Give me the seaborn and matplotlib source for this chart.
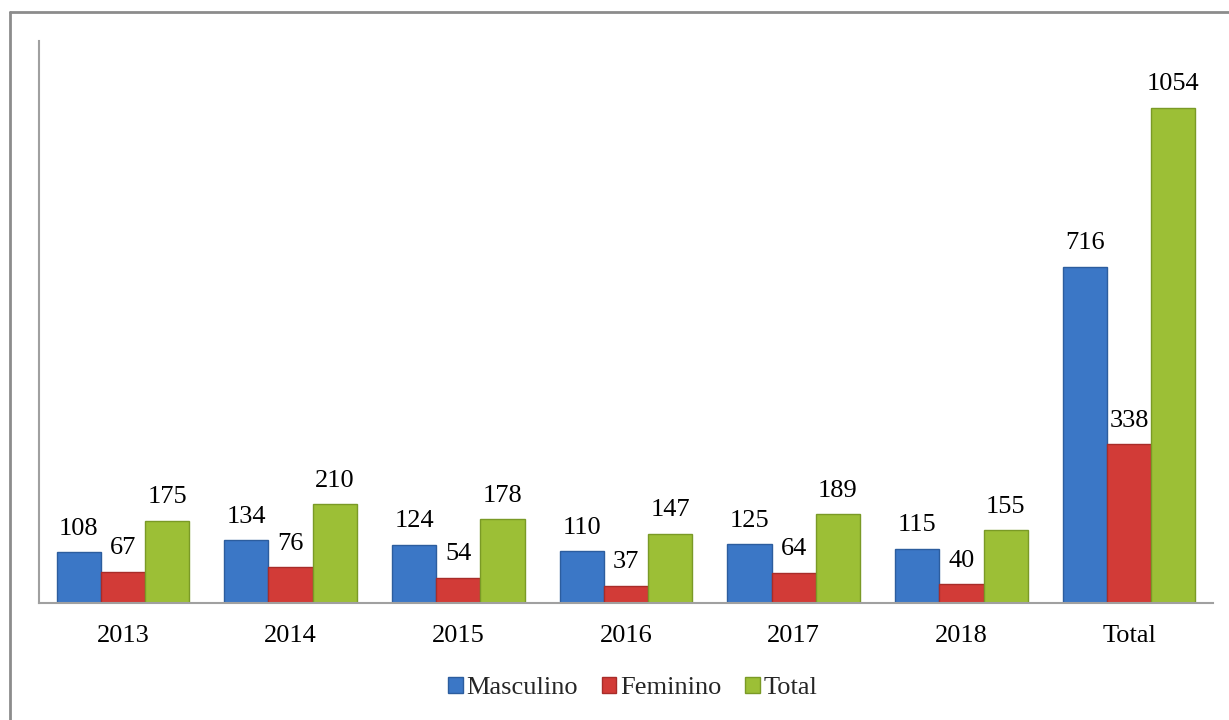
import numpy as np
import pandas as pd
import matplotlib.pyplot as plt
import seaborn as sns
from matplotlib.lines import Line2D

categories = ['2013', '2014', '2015', '2016', '2017', '2018', 'Total']
masculino = [108, 134, 124, 110, 125, 115, 716]
feminino = [67, 76, 54, 37, 64, 40, 338]
total = [175, 210, 178, 147, 189, 155, 1054]
series = ['Masculino', 'Feminino', 'Total']
colors = ['#3b77c6', '#d23b37', '#9cbf36']
edges = ['#2c5d9e', '#a82c29', '#7a9a26']

data = pd.DataFrame({
    'ano': categories * 3,
    'serie': np.repeat(series, len(categories)),
    'valor': masculino + feminino + total,
})

sns.set_style('white')
plt.rcParams['font.family'] = ['Liberation Serif', 'DejaVu Serif']

fig = plt.figure(figsize=(12.29, 7.2), dpi=100)
ax = fig.add_axes([39 / 1229, 1 - 603 / 720, 1174 / 1229, 562 / 720])

sns.barplot(data=data, x='ano', y='valor', hue='serie', palette=colors,
            width=0.79, ax=ax, edgecolor='none', saturation=1, legend=False)

for cont, ec in zip(ax.containers, edges):
    for p in cont:
        p.set_edgecolor(ec)
        p.set_linewidth(1)
    ax.bar_label(cont, padding=9, fontsize=19, color='black')

ax.set_ylim(0, 1196)
ax.set_yticks([])
ax.set_xlabel('')
ax.set_ylabel('')
ax.tick_params(axis='x', labelsize=19, length=0, pad=16, labelcolor='black')
for s in ['top', 'right']:
    ax.spines[s].set_visible(False)
for s in ['left', 'bottom']:
    ax.spines[s].set_color('#a0a0a0')
    ax.spines[s].set_linewidth(1.5)

# legend
handles = [plt.Rectangle((0, 0), 1, 1, facecolor=c, edgecolor=e) for c, e in zip(colors, edges)]
fig.legend(handles, series, loc='center', bbox_to_anchor=(0.515, 1 - 688 / 720),
           ncol=3, frameon=False, fontsize=19, handlelength=0.55, handleheight=0.55,
           handletextpad=0.15, columnspacing=0.9)

# outer chart frame
fig.add_artist(Line2D([10 / 1229, 10 / 1229], [0, 1 - 12 / 720], color='#8c8c8c', lw=2,
                      transform=fig.transFigure))
fig.add_artist(Line2D([10 / 1229, 1], [1 - 12 / 720, 1 - 12 / 720], color='#8c8c8c', lw=2,
                      transform=fig.transFigure))

fig.savefig('out.png', dpi=100)
